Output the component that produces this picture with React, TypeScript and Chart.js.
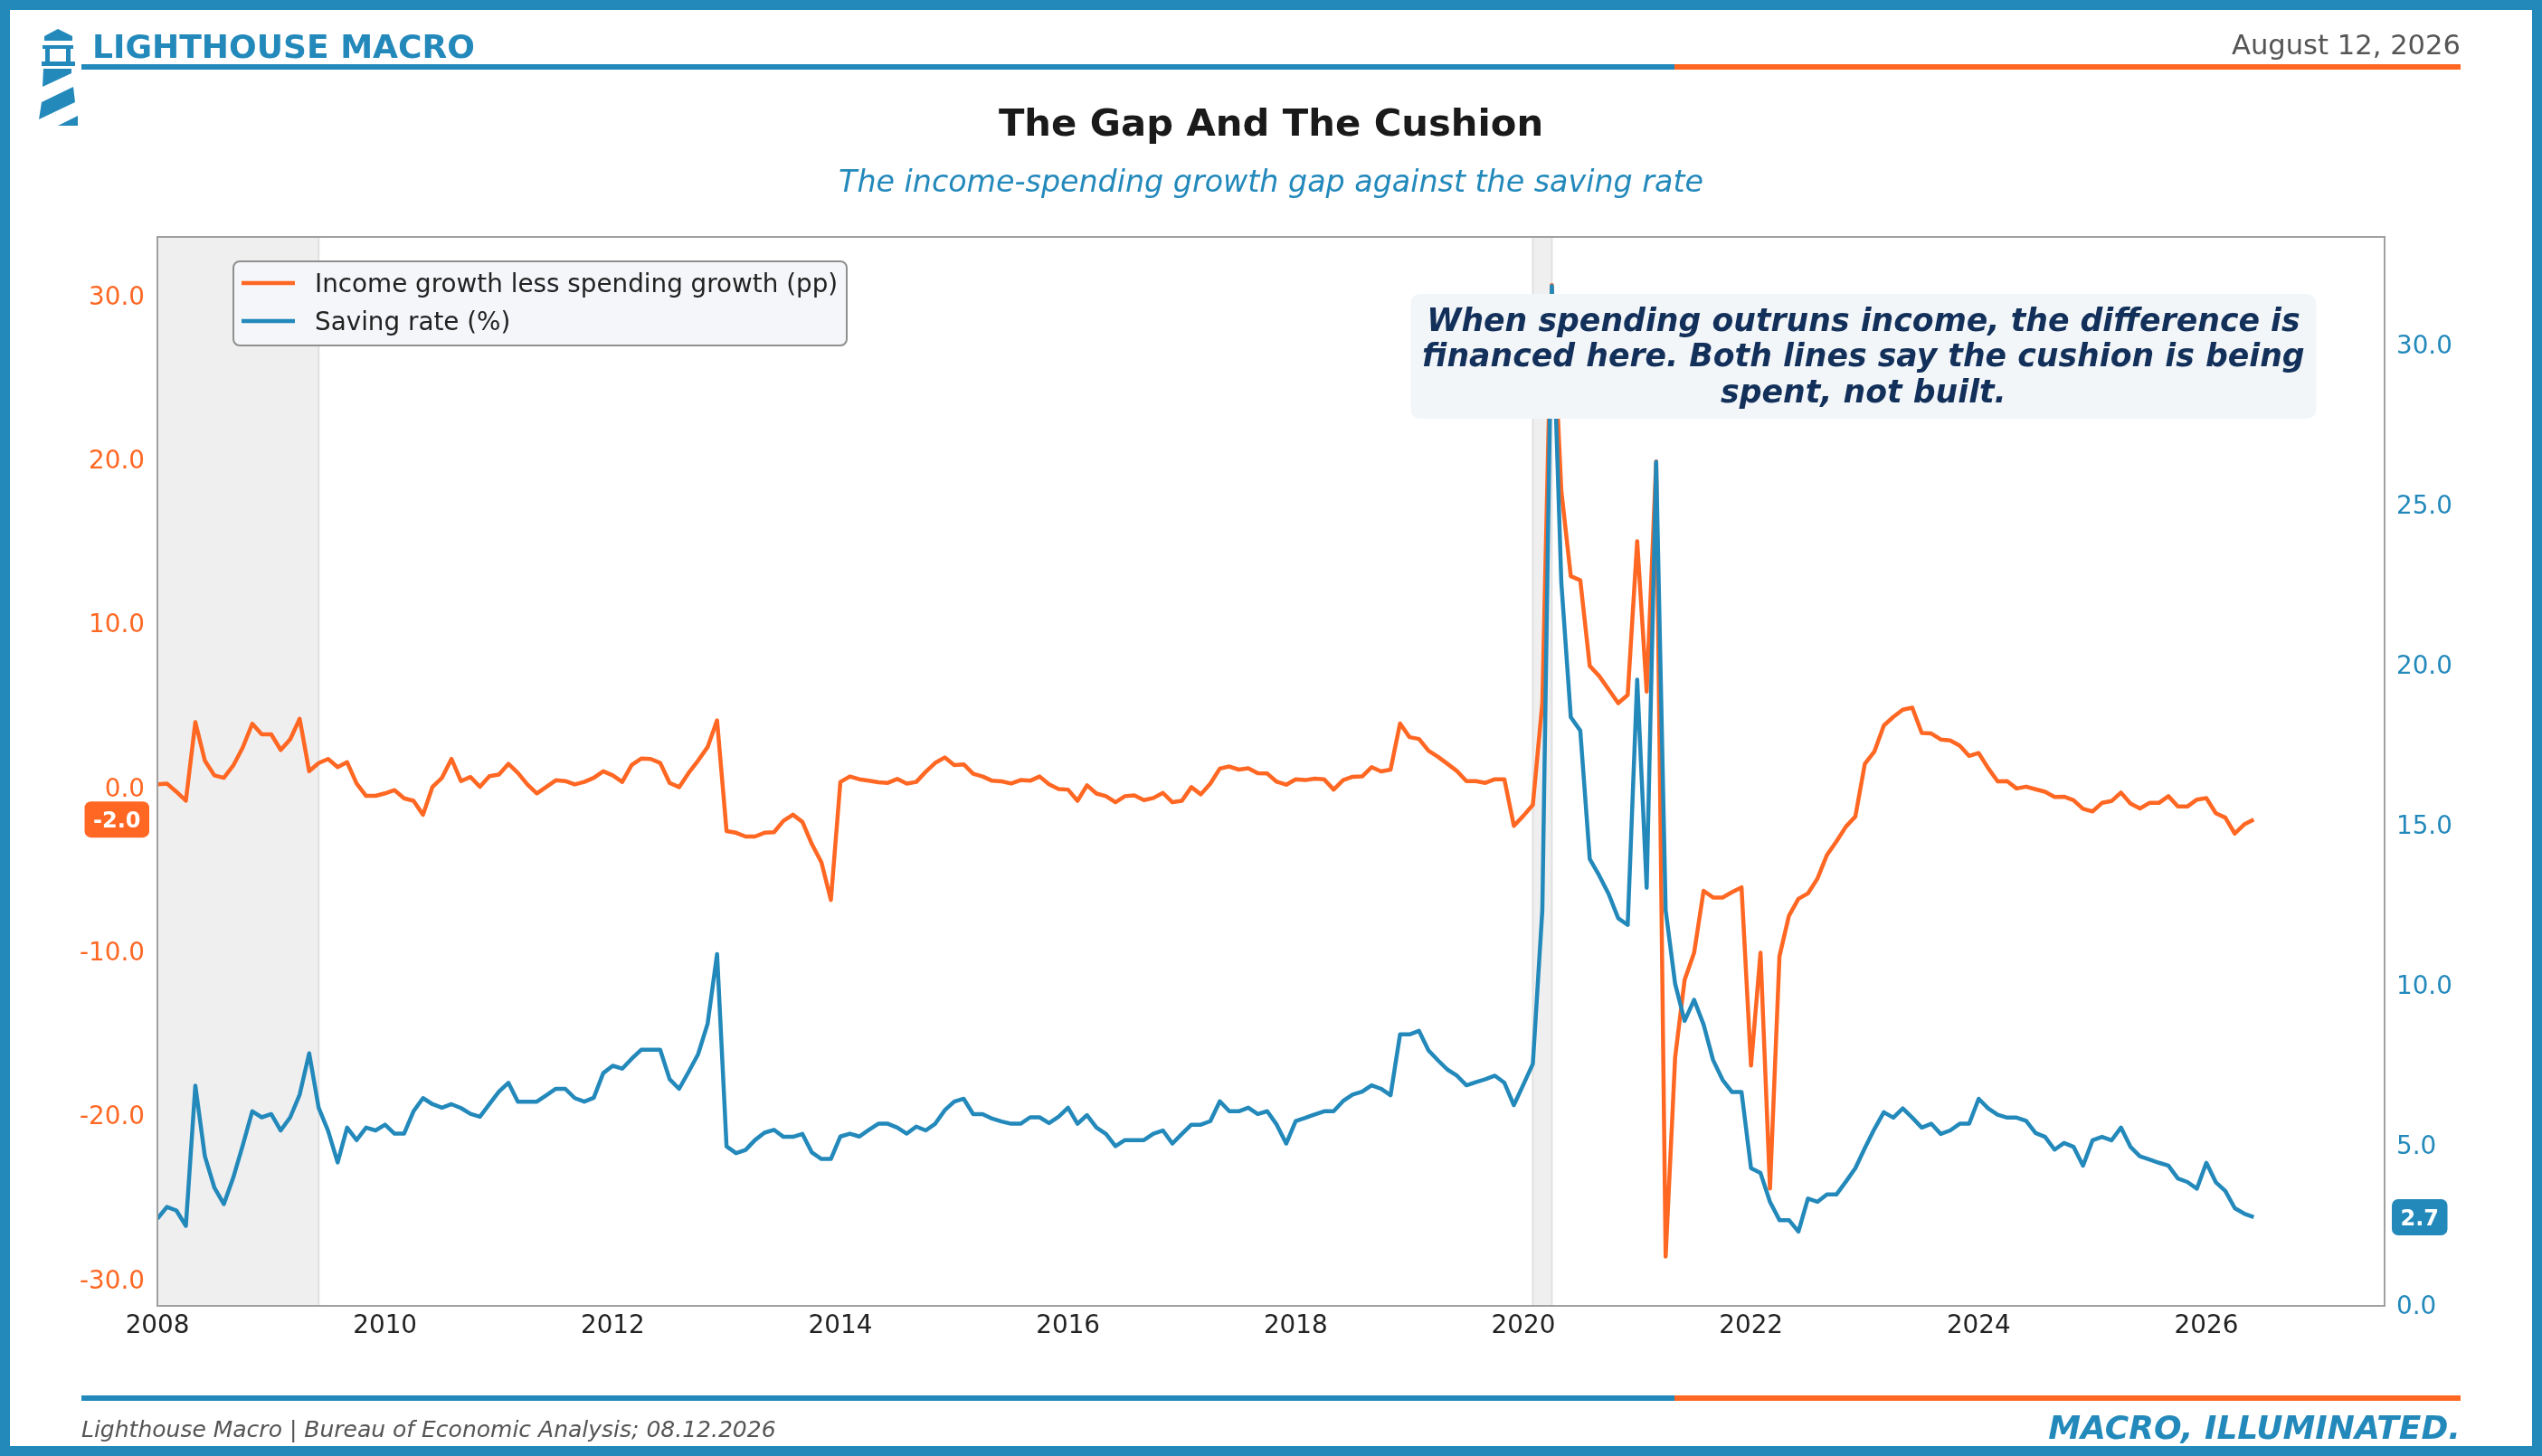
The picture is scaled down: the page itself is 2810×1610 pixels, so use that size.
import React, { useEffect, useRef } from "react";
import { Chart, registerables } from "chart.js";

Chart.register(...registerables);

const BLUE = "#2389BB";
const ORANGE = "#FF6723";
const NAVY = "#12305A";
const FONT = '"DejaVu Sans", "Noto Sans", sans-serif';

// Monthly observations starting January 2008
const START_YEAR = 2008;

const INCOME_GAP = [
  0.15, 0.2, -0.3, -0.85, 3.95, 1.6, 0.7, 0.55, 1.3, 2.4, 3.85, 3.2,
  3.2, 2.25, 2.9, 4.15, 0.95, 1.45, 1.7, 1.2, 1.5, 0.2, -0.55, -0.55,
  -0.4, -0.2, -0.7, -0.85, -1.7, 0.0, 0.55, 1.7, 0.35, 0.6, 0.0, 0.65,
  0.75, 1.4, 0.85, 0.15, -0.4, 0.0, 0.4, 0.35, 0.15, 0.3, 0.55, 0.95,
  0.7, 0.3, 1.33, 1.72, 1.7, 1.46, 0.24, -0.02, 0.85, 1.6, 2.42, 4.05,
  -2.7, -2.8, -3.03, -3.03, -2.8, -2.77, -2.07, -1.7, -2.14, -3.5, -4.6, -6.9,
  0.3, 0.63, 0.46, 0.37, 0.28, 0.24, 0.48, 0.2, 0.3, 0.92, 1.46, 1.79,
  1.33, 1.37, 0.8, 0.63, 0.37, 0.33, 0.2, 0.41, 0.37, 0.63, 0.15, -0.13,
  -0.17, -0.85, 0.09, -0.41, -0.57, -0.94, -0.57, -0.52, -0.81, -0.68, -0.37, -0.94,
  -0.85, -0.02, -0.46, 0.2, 1.11, 1.24, 1.05, 1.13, 0.83, 0.81, 0.31, 0.13,
  0.46, 0.41, 0.5, 0.46, -0.17, 0.41, 0.61, 0.63, 1.2, 0.94, 1.05, 3.86,
  3.03, 2.92, 2.2, 1.83, 1.4, 0.96, 0.35, 0.35, 0.24, 0.46, 0.46, -2.38,
  -1.77, -1.1, 5.1, 30.6, 18.07, 12.84, 12.6, 7.37, 6.75, 5.93, 5.1, 5.6,
  14.98, 5.8, 19.84, -28.64, -16.5, -11.77, -10.12, -6.34, -6.75, -6.75, -6.42, -6.13,
  -17.0, -10.12, -24.5, -10.33, -7.86, -6.83, -6.5, -5.6, -4.16, -3.33, -2.43, -1.81,
  1.4, 2.14, 3.74, 4.26, 4.7, 4.83, 3.28, 3.25, 2.89, 2.83, 2.51, 1.88,
  2.06, 1.14, 0.33, 0.35, -0.1, 0.01, -0.15, -0.3, -0.62, -0.6, -0.82, -1.34,
  -1.5, -0.98, -0.87, -0.35, -1.02, -1.32, -0.98, -0.98, -0.57, -1.2, -1.2, -0.78,
  -0.69, -1.61, -1.88, -2.85, -2.29, -1.99,
];

const SAVING_RATE = [
  2.66, 3.03, 2.92, 2.44, 6.82, 4.62, 3.64, 3.12, 3.95, 4.96, 6.02, 5.83,
  5.93, 5.42, 5.83, 6.54, 7.83, 6.13, 5.4, 4.42, 5.51, 5.12, 5.51, 5.42,
  5.6, 5.32, 5.32, 6.02, 6.43, 6.24, 6.13, 6.24, 6.12, 5.94, 5.85, 6.24,
  6.63, 6.91, 6.32, 6.32, 6.32, 6.52, 6.72, 6.72, 6.43, 6.32, 6.44, 7.21,
  7.44, 7.35, 7.66, 7.94, 7.94, 7.94, 7.02, 6.72, 7.25, 7.8, 8.75, 10.93,
  4.92, 4.71, 4.81, 5.12, 5.35, 5.44, 5.22, 5.22, 5.31, 4.73, 4.53, 4.53,
  5.23, 5.32, 5.23, 5.44, 5.63, 5.63, 5.51, 5.32, 5.54, 5.42, 5.63, 6.05,
  6.32, 6.41, 5.93, 5.93, 5.79, 5.7, 5.63, 5.63, 5.83, 5.83, 5.65, 5.85,
  6.13, 5.63, 5.9, 5.51, 5.31, 4.93, 5.12, 5.12, 5.12, 5.32, 5.42, 5.01,
  5.31, 5.6, 5.6, 5.71, 6.33, 6.02, 6.02, 6.13, 5.93, 6.02, 5.6, 5.01,
  5.71, 5.81, 5.92, 6.02, 6.02, 6.34, 6.54, 6.63, 6.83, 6.72, 6.52, 8.42,
  8.42, 8.53, 7.92, 7.61, 7.32, 7.13, 6.83, 6.93, 7.02, 7.13, 6.91, 6.21,
  6.85, 7.5, 12.3, 31.8, 22.55, 18.33, 17.91, 13.9, 13.38, 12.8, 12.05, 11.84,
  19.5, 13.0, 26.3, 12.3, 10.0, 8.84, 9.5, 8.73, 7.62, 7.0, 6.62, 6.62,
  4.24, 4.09, 3.19, 2.62, 2.62, 2.26, 3.29, 3.19, 3.42, 3.42, 3.82, 4.24,
  4.87, 5.46, 5.99, 5.82, 6.11, 5.82, 5.51, 5.63, 5.31, 5.42, 5.63, 5.63,
  6.41, 6.11, 5.91, 5.82, 5.82, 5.72, 5.34, 5.22, 4.82, 5.03, 4.91, 4.32,
  5.11, 5.22, 5.11, 5.51, 4.91, 4.61, 4.51, 4.41, 4.32, 3.92, 3.81, 3.6,
  4.41, 3.8, 3.53, 2.99, 2.82, 2.71,
];

const X_TICKS = [2008, 2010, 2012, 2014, 2016, 2018, 2020, 2022, 2024, 2026];
const LEFT_TICKS = [-30, -20, -10, 0, 10, 20, 30];
const RIGHT_TICKS = [0, 5, 10, 15, 20, 25, 30];

// Recession shading (decimal years): Jan 2008 - Jun 2009, Feb 2020 - Apr 2020
const SHADED_SPANS = [
  [2008.0, 2009 + 5 / 12],
  [2020 + 1 / 12, 2020 + 3 / 12],
];

const X_RANGE = [2008, 2027.566];
const LEFT_RANGE = [-31.65, 33.53];
const RIGHT_RANGE = [-0.06, 33.33];

const LEGEND_LABELS = ["Income growth less spending growth (pp)", "Saving rate (%)"];
const ANNOTATION_LINES = [
  "When spending outruns income, the difference is",
  "financed here. Both lines say the cushion is being",
  "spent, not built.",
];

const TEXT_SHIFT = 3.5; // canvas 'middle' baseline correction for DejaVu Sans

const monthX = (i: number) => START_YEAR + i / 12;

function roundRect(ctx: CanvasRenderingContext2D, x: number, y: number, w: number, h: number, r: number) {
  ctx.beginPath();
  ctx.moveTo(x + r, y);
  ctx.arcTo(x + w, y, x + w, y + h, r);
  ctx.arcTo(x + w, y + h, x, y + h, r);
  ctx.arcTo(x, y + h, x, y, r);
  ctx.arcTo(x, y, x + w, y, r);
  ctx.closePath();
}

const decorPlugin = {
  id: "decor",
  beforeDatasetsDraw(chart: any) {
    const { ctx, chartArea: a, scales } = chart;
    const xs = scales.x;
    ctx.save();
    SHADED_SPANS.forEach(([s, e]) => {
      const x0 = xs.getPixelForValue(s);
      const x1 = xs.getPixelForValue(e);
      ctx.fillStyle = "#EFEFEF";
      ctx.fillRect(x0, a.top, x1 - x0, a.bottom - a.top);
      ctx.strokeStyle = "#E1E1E1";
      ctx.lineWidth = 2;
      ctx.beginPath();
      ctx.moveTo(x0, a.top);
      ctx.lineTo(x0, a.bottom);
      ctx.moveTo(x1, a.top);
      ctx.lineTo(x1, a.bottom);
      ctx.stroke();
    });
    ctx.restore();
  },
  afterDatasetsDraw(chart: any) {
    const { ctx, chartArea: a } = chart;
    ctx.save();
    // frame (spines)
    ctx.strokeStyle = "#A0A0A0";
    ctx.lineWidth = 2;
    ctx.strokeRect(a.left, a.top, a.right - a.left, a.bottom - a.top);

    // legend
    const lx = a.left + 84;
    const ly = a.top + 27;
    roundRect(ctx, lx, ly, 678, 93, 7);
    ctx.fillStyle = "rgba(243,246,249,0.95)";
    ctx.fill();
    ctx.strokeStyle = "#8F8F8F";
    ctx.lineWidth = 2;
    ctx.stroke();
    const colors = [ORANGE, BLUE];
    LEGEND_LABELS.forEach((label, k) => {
      const yy = ly + 24 + k * 42;
      ctx.strokeStyle = colors[k];
      ctx.lineWidth = 4.5;
      ctx.beginPath();
      ctx.moveTo(lx + 9, yy);
      ctx.lineTo(lx + 68, yy);
      ctx.stroke();
      ctx.fillStyle = "#222222";
      ctx.font = `27.8px ${FONT}`;
      ctx.textAlign = "left";
      ctx.textBaseline = "middle";
      ctx.fillText(label, lx + 90, yy + TEXT_SHIFT - 1);
    });

    // annotation box
    const cx = a.left + 0.766 * (a.right - a.left);
    const bw = 1001;
    const bh = 138;
    const bx = cx - bw / 2;
    const by = a.top + 63;
    roundRect(ctx, bx, by, bw, bh, 10);
    ctx.fillStyle = "#F3F6F9";
    ctx.fill();
    ctx.fillStyle = NAVY;
    ctx.font = `italic bold 34.7px ${FONT}`;
    ctx.textAlign = "center";
    ctx.textBaseline = "middle";
    ANNOTATION_LINES.forEach((t, k) => {
      ctx.fillText(t, cx, by + 28 + k * 39.5 + TEXT_SHIFT);
    });
    ctx.restore();
  },
  afterDraw(chart: any) {
    const { ctx, chartArea: a, scales } = chart;
    ctx.save();
    ctx.font = `bold 24px ${FONT}`;
    ctx.textBaseline = "middle";
    ctx.textAlign = "center";
    const drawBadge = (text: string, yPix: number, color: string, side: "left" | "right") => {
      const tw = ctx.measureText(text).width;
      const w = tw + 19;
      const h = 40;
      const x = side === "left" ? a.left - 9 - w : a.right + 8;
      roundRect(ctx, x, yPix - h / 2, w, h, 7);
      ctx.fillStyle = color;
      ctx.fill();
      ctx.fillStyle = "#FFFFFF";
      ctx.fillText(text, x + w / 2, yPix + TEXT_SHIFT - 1);
    };
    const lastGap = INCOME_GAP[INCOME_GAP.length - 1];
    const lastSave = SAVING_RATE[SAVING_RATE.length - 1];
    drawBadge(lastGap.toFixed(1), scales.y.getPixelForValue(lastGap), ORANGE, "left");
    drawBadge(lastSave.toFixed(1), scales.y1.getPixelForValue(lastSave), BLUE, "right");
    ctx.restore();
  },
};

function Logo() {
  return (
    <svg
      width={44}
      height={108}
      viewBox="0 0 44 108"
      style={{ position: "absolute", left: 43, top: 32 }}
    >
      <polygon points="21,0 37,8 37,13 6,13 6,8" fill={BLUE} />
      <rect x={4} y={18} width={34} height={4} fill={BLUE} />
      <rect x={7} y={18} width={5} height={20} fill={BLUE} />
      <rect x={30} y={18} width={5} height={20} fill={BLUE} />
      <rect x={3} y={36} width={37} height={5} fill={BLUE} />
      <polygon points="5,44 36,44 36,49 4,64" fill={BLUE} />
      <polygon points="38,64 40,81 0,100 3,81" fill={BLUE} />
      <polygon points="43,96 43,107 21,107" fill={BLUE} />
    </svg>
  );
}

function Txt(props: {
  text: string;
  size: number;
  capCenter: number;
  left?: number;
  right?: number;
  center?: boolean;
  color: string;
  weight?: string;
  italic?: boolean;
}) {
  const { text, size, capCenter, left, right, center, color, weight, italic } = props;
  const style: any = {
    position: "absolute",
    top: capCenter - 0.4815 * size,
    fontFamily: FONT,
    fontSize: size,
    lineHeight: `${size}px`,
    color,
    fontWeight: weight || "normal",
    fontStyle: italic ? "italic" : "normal",
    whiteSpace: "nowrap",
  };
  if (center) {
    style.left = 0;
    style.width = 2810;
    style.textAlign = "center";
  } else if (right !== undefined) {
    style.right = right;
    style.textAlign = "right";
  } else {
    style.left = left;
  }
  return <div style={style}>{text}</div>;
}

export default function App() {
  const canvasRef = useRef<HTMLCanvasElement | null>(null);

  useEffect(() => {
    document.body.style.margin = "0";
    const canvas = canvasRef.current;
    if (!canvas) return;
    const tickFont = { family: FONT, size: 27.8 };
    const chart = new Chart(canvas, {
      type: "line",
      data: {
        datasets: [
          {
            label: LEGEND_LABELS[0],
            data: INCOME_GAP.map((v, i) => ({ x: monthX(i), y: v })),
            yAxisID: "y",
            borderColor: ORANGE,
            backgroundColor: ORANGE,
            borderWidth: 4.5,
            pointRadius: 0,
            tension: 0,
            borderJoinStyle: "round",
            order: 2,
          },
          {
            label: LEGEND_LABELS[1],
            data: SAVING_RATE.map((v, i) => ({ x: monthX(i), y: v })),
            yAxisID: "y1",
            borderColor: BLUE,
            backgroundColor: BLUE,
            borderWidth: 4.5,
            pointRadius: 0,
            tension: 0,
            borderJoinStyle: "round",
            order: 1,
          },
        ],
      },
      options: {
        animation: false,
        responsive: true,
        maintainAspectRatio: false,
        events: [],
        layout: { padding: { top: 262, left: 0, right: 0, bottom: 0 } },
        plugins: {
          legend: { display: false },
          tooltip: { enabled: false },
          title: { display: false },
        },
        scales: {
          x: {
            type: "linear",
            min: X_RANGE[0],
            max: X_RANGE[1],
            grid: { display: false, drawTicks: false },
            border: { display: false },
            ticks: {
              color: "#222222",
              font: tickFont,
              padding: 6,
              maxRotation: 0,
              autoSkip: false,
              callback: (v: any) => String(v),
            },
            afterBuildTicks: (s: any) => {
              s.ticks = X_TICKS.map((v) => ({ value: v }));
            },
            afterFit: (s: any) => {
              s.height = 166;
            },
          },
          y: {
            type: "linear",
            position: "left",
            min: LEFT_RANGE[0],
            max: LEFT_RANGE[1],
            grid: { display: false, drawTicks: false },
            border: { display: false },
            ticks: {
              color: ORANGE,
              font: tickFont,
              padding: 14,
              labelOffset: TEXT_SHIFT,
              callback: (v: any) => Number(v).toFixed(1),
            },
            afterBuildTicks: (s: any) => {
              s.ticks = LEFT_TICKS.map((v) => ({ value: v }));
            },
            afterFit: (s: any) => {
              s.width = 174;
            },
          },
          y1: {
            type: "linear",
            position: "right",
            min: RIGHT_RANGE[0],
            max: RIGHT_RANGE[1],
            grid: { display: false, drawTicks: false },
            border: { display: false },
            ticks: {
              color: BLUE,
              font: tickFont,
              padding: 13,
              labelOffset: TEXT_SHIFT,
              callback: (v: any) => Number(v).toFixed(1),
            },
            afterBuildTicks: (s: any) => {
              s.ticks = RIGHT_TICKS.map((v) => ({ value: v }));
            },
            afterFit: (s: any) => {
              s.width = 174;
            },
          },
        },
      } as any,
      plugins: [decorPlugin],
    });
    return () => chart.destroy();
  }, []);

  return (
    <div
      style={{
        position: "absolute",
        left: 0,
        top: 0,
        width: 2810,
        height: 1610,
        background: "#FFFFFF",
        overflow: "hidden",
      }}
    >
      <div style={{ position: "absolute", left: 0, top: 0, width: 2810, height: 1610 }}>
        <canvas ref={canvasRef} />
      </div>

      <Logo />
      <Txt text="LIGHTHOUSE MACRO" size={36.1} capCenter={51.5} left={102} color={BLUE} weight="bold" />
      <Txt text="August 12, 2026" size={30.6} capCenter={50} right={90} color="#555555" />
      <div style={{ position: "absolute", left: 90, top: 71, width: 1761, height: 6, background: BLUE }} />
      <div style={{ position: "absolute", left: 1851, top: 71, width: 869, height: 6, background: ORANGE }} />

      <Txt text="The Gap And The Cushion" size={41.7} capCenter={134.7} center color="#1A1A1A" weight="bold" />
      <Txt
        text="The income-spending growth gap against the saving rate"
        size={33.3}
        capCenter={200}
        center
        color={BLUE}
        italic
      />

      <div style={{ position: "absolute", left: 90, top: 1543, width: 1761, height: 6, background: BLUE }} />
      <div style={{ position: "absolute", left: 1851, top: 1543, width: 869, height: 6, background: ORANGE }} />
      <Txt
        text="Lighthouse Macro | Bureau of Economic Analysis; 08.12.2026"
        size={25}
        capCenter={1580}
        left={90}
        color="#555555"
        italic
      />
      <Txt text="MACRO, ILLUMINATED." size={36} capCenter={1578} right={90} color={BLUE} weight="bold" italic />

      <div
        style={{
          position: "absolute",
          left: 0,
          top: 0,
          width: 2810,
          height: 1610,
          boxSizing: "border-box",
          border: `11px solid ${BLUE}`,
          pointerEvents: "none",
        }}
      />
    </div>
  );
}
